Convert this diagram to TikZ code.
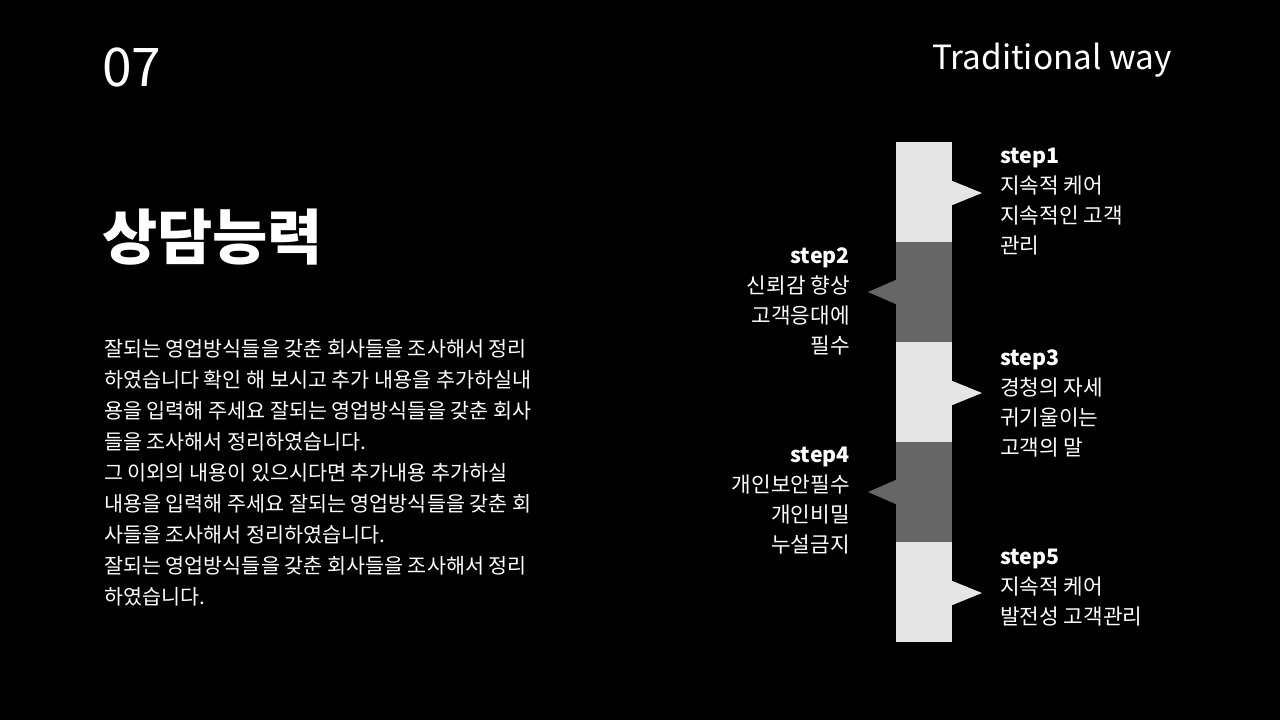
\documentclass[tikz,border=0pt]{standalone}
\usepackage{fontspec}
\setmainfont{Noto Sans CJK KR}
\begin{document}
\begin{tikzpicture}[x=0.75pt,y=-0.75pt,
  lt/.style={fill=black!10},
  dk/.style={fill=black!60},
  body/.style={anchor=north west,align=left,text=white,font=\fontsize{15.5}{23.3}\selectfont,inner sep=0pt},
  rtxt/.style={anchor=north west,align=left,text=white,font=\fontsize{16}{22.5}\selectfont,inner sep=0pt},
  ltxt/.style={anchor=north east,align=right,text=white,font=\fontsize{16}{22.5}\selectfont,inner sep=0pt}]
\fill[black] (0,0) rectangle (1280,720);
\useasboundingbox (0,0) rectangle (1280,720);
\node[anchor=west,text=white,font=\fontsize{40}{40}\selectfont,inner sep=0pt] (num) at (102,67) {07};
\node[anchor=east,text=white,font=\fontsize{25}{25}\selectfont,inner sep=0pt] (trad) at (1172,60) {Traditional way};
\node[anchor=west,text=white,font=\fontsize{45}{45}\selectfont\bfseries,inner sep=0pt] (title) at (102,237) {상담능력};
\node[body] (txt) at (104,339) {잘되는 영업방식들을 갖춘 회사들을 조사해서 정리\\하였습니다 확인 해 보시고 추가 내용을 추가하실내\\용을 입력해 주세요 잘되는 영업방식들을 갖춘 회사\\들을 조사해서 정리하였습니다.\\그 이외의 내용이 있으시다면 추가내용 추가하실\\내용을 입력해 주세요 잘되는 영업방식들을 갖춘 회\\사들을 조사해서 정리하였습니다.\\잘되는 영업방식들을 갖춘 회사들을 조사해서 정리\\하였습니다.};
% bar
\fill[lt] (896,142) rectangle (952,242);
\fill[dk] (896,242) rectangle (952,342);
\fill[lt] (896,342) rectangle (952,442);
\fill[dk] (896,442) rectangle (952,542);
\fill[lt] (896,542) rectangle (952,642);
\fill[lt] (950,180) -- (982,193) -- (950,206) -- cycle;
\fill[lt] (950,380) -- (982,393) -- (950,406) -- cycle;
\fill[lt] (950,580) -- (982,593) -- (950,606) -- cycle;
\fill[dk] (898,279) -- (868,292) -- (898,305) -- cycle;
\fill[dk] (898,479) -- (868,492) -- (898,505) -- cycle;
\node[rtxt] (s1) at (1000,148) {\textbf{step1}\\지속적 케어\\지속적인 고객\\관리};
\node[ltxt] (s2) at (850,247) {\textbf{step2}\\신뢰감 향상\\고객응대에\\필수};
\node[rtxt] (s3) at (1000,349) {\textbf{step3}\\경청의 자세\\귀기울이는\\고객의 말};
\node[ltxt] (s4) at (850,447) {\textbf{step4}\\개인보안필수\\개인비밀\\누설금지};
\node[rtxt] (s5) at (1000,549) {\textbf{step5}\\지속적 케어\\발전성 고객관리};
\end{tikzpicture}
\end{document}
